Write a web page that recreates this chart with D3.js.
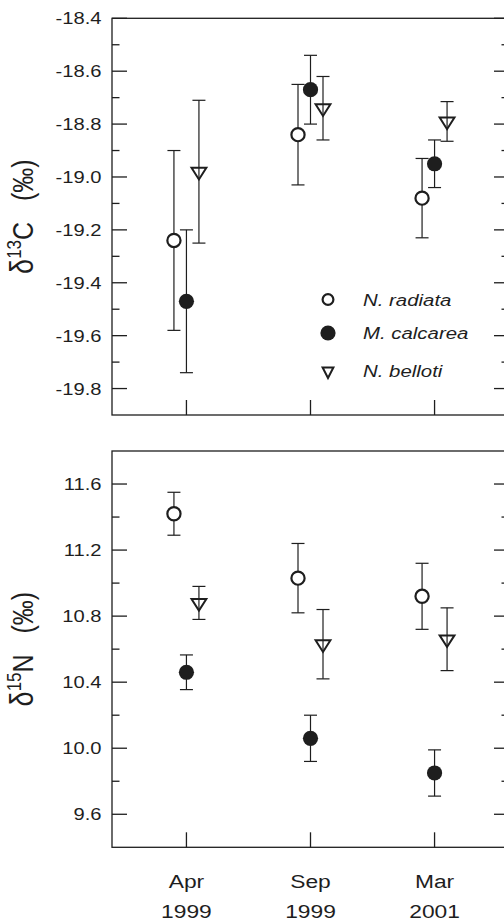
<!DOCTYPE html>
<html>
<head>
<meta charset="utf-8">
<script src="https://cdn.jsdelivr.net/npm/d3@7"></script>
<style>
  body { margin: 0; background: #fff; }
  svg { display: block; font-family: "Liberation Sans", Arial, sans-serif; }
</style>
</head>
<body>
<div id="chart"></div>
<script>
// sampling periods (x categories), two label lines each
const periods = ["Apr 1999", "Sep 1999", "Mar 2001"];
const periodMonth = ["Apr", "Sep", "Mar"];
const periodYear = ["1999", "1999", "2001"];
const species = ["N. radiata", "M. calcarea", "N. belloti"];

// delta 13C (permil), mean and error per species and period
const c13Radiata = [-19.24, -18.84, -19.08];
const c13RadiataErr = [0.34, 0.19, 0.15];
const c13Calcarea = [-19.47, -18.67, -18.95];
const c13CalcareaErr = [0.27, 0.13, 0.09];
const c13Belloti = [-18.98, -18.74, -18.79];
const c13BellotiErr = [0.27, 0.12, 0.075];

// delta 15N (permil)
const n15Radiata = [11.42, 11.03, 10.92];
const n15RadiataErr = [0.13, 0.21, 0.20];
const n15Calcarea = [10.46, 10.06, 9.85];
const n15CalcareaErr = [0.105, 0.14, 0.14];
const n15Belloti = [10.88, 10.63, 10.66];
const n15BellotiErr = [0.10, 0.21, 0.19];

const c13Major = [-18.4, -18.6, -18.8, -19.0, -19.2, -19.4, -19.6, -19.8];
const c13Minor = [-18.5, -18.7, -18.9, -19.1, -19.3, -19.5, -19.7];
const n15Major = [11.6, 11.2, 10.8, 10.4, 10.0, 9.6];
const n15Minor = [11.4, 11.0, 10.6, 10.2, 9.8];

function rows(means, errs) {
  return species.flatMap((sp, s) =>
    periods.map((p, i) => ({ species: sp, period: p, value: means[s][i], err: errs[s][i] })));
}

const carbon = rows([c13Radiata, c13Calcarea, c13Belloti], [c13RadiataErr, c13CalcareaErr, c13BellotiErr]);
const nitrogen = rows([n15Radiata, n15Calcarea, n15Belloti], [n15RadiataErr, n15CalcareaErr, n15BellotiErr]);

const W = 504, H = 923;
const left = 112, right = 509;
const ink = "#1e1e1e";
const sx = 1.2; // glyphs in the figure are a bit wider than Liberation Sans

const svg = d3.select("#chart").append("svg")
  .attr("width", W).attr("height", H);

const x = d3.scalePoint().domain(periods).range([left, right]).padding(0.6);
const dodge = d3.scalePoint().domain(species).range([-12.5, 12.5]);

function triPath(hw, h) {
  return `M${-hw},${-h / 3}L${hw},${-h / 3}L0,${2 * h / 3}Z`;
}

function marker(g, sp, big) {
  if (sp === "N. radiata") {
    g.append("circle").attr("r", big ? 6.6 : 5.4)
      .attr("fill", "#fff").attr("stroke", ink).attr("stroke-width", 2.2);
  } else if (sp === "M. calcarea") {
    g.append("circle").attr("r", 7.6).attr("fill", ink);
  } else {
    g.append("path").attr("d", big ? triPath(7.4, 11.6) : triPath(5.4, 10.5))
      .attr("fill", "none").attr("stroke", ink).attr("stroke-width", 2)
      .attr("stroke-linejoin", "miter");
  }
}

function panel(data, domain, range, major, minor, labelIso) {
  const y = d3.scaleLinear().domain(domain).range(range);
  const g = svg.append("g");

  // frame
  g.append("rect")
    .attr("x", left).attr("y", range[1])
    .attr("width", right - left).attr("height", range[0] - range[1])
    .attr("fill", "none").attr("stroke", ink).attr("stroke-width", 1.3);

  // inward ticks, left and right
  const tick = (vals, len) => {
    g.selectAll(null).data(vals).enter().append("line")
      .attr("x1", left).attr("x2", left + len)
      .attr("y1", d => y(d)).attr("y2", d => y(d))
      .attr("stroke", ink).attr("stroke-width", 1.3);
    g.selectAll(null).data(vals).enter().append("line")
      .attr("x1", right).attr("x2", right - len)
      .attr("y1", d => y(d)).attr("y2", d => y(d))
      .attr("stroke", ink).attr("stroke-width", 1.3);
  };
  tick(major, 15);
  tick(minor, 7.5);

  g.selectAll(null).data(major).enter().append("text")
    .attr("transform", d => `translate(${left - 10.5},${y(d)}) scale(${sx},1)`)
    .attr("dy", "0.36em")
    .attr("text-anchor", "end")
    .attr("font-size", 16.8)
    .attr("fill", ink)
    .text(d => d.toFixed(1));

  // x ticks pointing up from the bottom
  g.selectAll(null).data(periods).enter().append("line")
    .attr("x1", d => x(d)).attr("x2", d => x(d))
    .attr("y1", range[0]).attr("y2", range[0] - 15)
    .attr("stroke", ink).attr("stroke-width", 1.3);

  // y title, rotated
  const mid = (range[0] + range[1]) / 2;
  const t = g.append("text")
    .attr("transform", `translate(33,${mid}) rotate(-90) scale(1,${sx})`)
    .attr("text-anchor", "middle")
    .attr("font-size", 25)
    .attr("fill", ink);
  t.append("tspan").attr("font-size", 27).text("δ");
  t.append("tspan").attr("font-size", 17).attr("dy", -10).text(labelIso[0]);
  t.append("tspan").attr("dy", 10).text(labelIso[1] + "\u00a0\u00a0\u00a0(‰)");

  // error bars
  const pts = g.selectAll(".pt").data(data).enter().append("g")
    .attr("class", "pt")
    .attr("transform", d => `translate(${x(d.period) + dodge(d.species)},0)`);

  pts.append("line")
    .attr("x1", 0).attr("x2", 0)
    .attr("y1", d => y(d.value + d.err)).attr("y2", d => y(d.value - d.err))
    .attr("stroke", ink).attr("stroke-width", 1.2);
  pts.append("line")
    .attr("x1", -6.5).attr("x2", 6.5)
    .attr("y1", d => y(d.value + d.err)).attr("y2", d => y(d.value + d.err))
    .attr("stroke", ink).attr("stroke-width", 1.2);
  pts.append("line")
    .attr("x1", -6.5).attr("x2", 6.5)
    .attr("y1", d => y(d.value - d.err)).attr("y2", d => y(d.value - d.err))
    .attr("stroke", ink).attr("stroke-width", 1.2);

  pts.each(function(d) {
    const m = d3.select(this).append("g").attr("transform", `translate(0,${y(d.value)})`);
    marker(m, d.species, true);
  });

  return y;
}

panel(carbon, [-19.9, -18.4], [415, 18.3], c13Major, c13Minor, ["13", "C"]);
panel(nitrogen, [9.4, 11.8], [847.3, 451], n15Major, n15Minor, ["15", "N"]);

// x labels under the lower panel
const xl = svg.append("g");
xl.selectAll(null).data(periods).enter().append("text")
  .attr("transform", d => `translate(${x(d)},887.5) scale(${sx},1)`)
  .attr("text-anchor", "middle").attr("font-size", 19).attr("fill", ink)
  .text((d, i) => periodMonth[i]);
xl.selectAll(null).data(periods).enter().append("text")
  .attr("transform", d => `translate(${x(d)},917.5) scale(${sx},1)`)
  .attr("text-anchor", "middle").attr("font-size", 19).attr("fill", ink)
  .text((d, i) => periodYear[i]);

// legend
const legendY = [299.5, 333, 371];
const legend = svg.selectAll(".legend").data(species).enter().append("g")
  .attr("class", "legend")
  .attr("transform", (d, i) => `translate(328,${legendY[i]})`);
legend.each(function(d) { marker(d3.select(this), d, false); });
legend.append("text")
  .attr("transform", `translate(35,6.3) scale(${sx},1)`)
  .attr("font-size", 17).attr("font-style", "italic").attr("fill", ink)
  .text(d => d);
</script>
</body>
</html>
